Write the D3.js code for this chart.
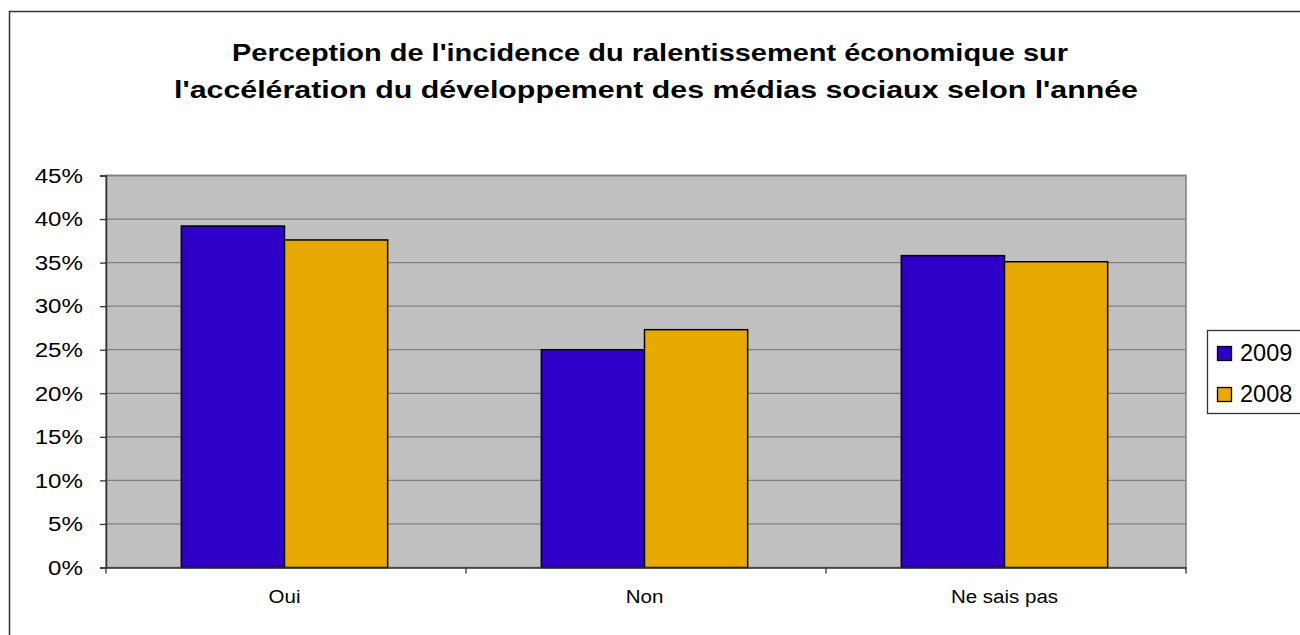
<!DOCTYPE html>
<html><head><meta charset="utf-8">
<script src="https://cdn.jsdelivr.net/npm/d3@7"></script>
<style>body{margin:0;background:#fff;} text{font-family:"Liberation Sans",Arial,sans-serif;}</style>
</head><body>
<svg id="c" width="1300" height="635"></svg>
<script>
const categories = ["Oui", "Non", "Ne sais pas"];
const seriesNames = ["2009", "2008"];
const values2009 = [39.2, 25.0, 35.8];
const values2008 = [37.6, 27.3, 35.1];
const yTicks = [0, 5, 10, 15, 20, 25, 30, 35, 40, 45];
const titleLines = ["Perception de l'incidence du ralentissement économique sur",
                    "l'accélération du développement des médias sociaux selon l'année"];
const colors = ["#2E00C8", "#E8AA00"];

const svg = d3.select("#c");
svg.append("rect").attr("x",9.5).attr("y",11.5).attr("width",1320).attr("height",660)
  .attr("fill","#fff").attr("stroke","#333").attr("stroke-width",1.5);

const L=106, R=1186, T=175.5, B=567.5;
const x = d3.scaleBand().domain(categories).range([L,R]).paddingInner(0).paddingOuter(0);
const xs = d3.scaleBand().domain(seriesNames).range([0, x.bandwidth()]).paddingInner(0).paddingOuter(0.745);
const y = d3.scaleLinear().domain([0,45]).range([B,T]);

svg.append("rect").attr("x",L).attr("y",T).attr("width",R-L).attr("height",B-T)
  .attr("fill","#C0C0C0").attr("stroke","#808080").attr("stroke-width",1.5);

svg.append("g").selectAll("line").data(yTicks.filter(d=>d>0)).join("line")
  .attr("x1",L).attr("x2",R).attr("y1",d=>y(d)).attr("y2",d=>y(d))
  .attr("stroke","#808080").attr("stroke-width",1.3);

const data = [values2009, values2008];
categories.forEach((c,i)=>{
  seriesNames.forEach((s,j)=>{
    const v = data[j][i];
    svg.append("rect").attr("x",x(c)+xs(s)-1.5).attr("y",y(v))
      .attr("width",xs.bandwidth()).attr("height",y(0)-y(v))
      .attr("fill",colors[j]).attr("stroke","#000").attr("stroke-width",1.5);
  });
});

// y axis
const yAxis = d3.axisLeft(y).tickValues(yTicks).tickFormat(d=>d+"%").tickSize(6).tickPadding(0);
const gy = svg.append("g").attr("transform",`translate(${L},0)`).call(yAxis);
gy.select(".domain").attr("stroke","#333").attr("stroke-width",1.5);
gy.selectAll(".tick line").attr("stroke","#333").attr("stroke-width",1.3);
gy.selectAll(".tick text").attr("font-size",21).attr("fill","#000")
  .attr("font-family","Liberation Sans, Arial, sans-serif")
  .attr("x",0).attr("transform","translate(-23,0) scale(1.15,1)");

// x axis
const xb = d3.scaleLinear().domain([0,categories.length]).range([L,R]);
const xAxis = d3.axisBottom(x).tickSize(0).tickPadding(22);
const gx = svg.append("g").attr("transform",`translate(0,${B})`).call(xAxis);
gx.select(".domain").attr("stroke","#333").attr("stroke-width",1.5);
gx.selectAll(".tick text").attr("font-size",19).attr("fill","#000")
  .attr("font-family","Liberation Sans, Arial, sans-serif")
  .attr("transform","scale(1.08,1)");
gx.selectAll(".tick").each(function(){
  const t = d3.select(this);
  const tx = +t.attr("transform").match(/translate\(([-\d.]+)/)[1];
  t.attr("transform",`translate(${tx-1.5},0)`);
});
svg.append("g").selectAll("line").data(d3.range(categories.length+1)).join("line")
  .attr("x1",d=>xb(d)).attr("x2",d=>xb(d)).attr("y1",B).attr("y2",B+6)
  .attr("stroke","#333").attr("stroke-width",1.3);

// title
const titleScale = [1.26, 1.32];
const titleCx = [650, 656];
svg.append("g").selectAll("text").data(titleLines).join("text")
  .attr("transform",(d,i)=>`translate(${titleCx[i]},${61+i*37}) scale(${titleScale[i]},1)`)
  .attr("text-anchor","middle")
  .attr("font-size",23).attr("font-weight","bold").attr("fill","#000").text(d=>d);

// legend
const lg = svg.append("g");
lg.append("rect").attr("x",1207.5).attr("y",330.5).attr("width",120).attr("height",83)
  .attr("fill","#fff").attr("stroke","#333").attr("stroke-width",1.3);
seriesNames.forEach((s,j)=>{
  lg.append("rect").attr("x",1217.5).attr("y",346.5+j*41).attr("width",14).attr("height",14)
    .attr("fill",colors[j]).attr("stroke","#000").attr("stroke-width",1.3);
  lg.append("text").attr("x",1240).attr("y",361+j*41).attr("font-size",23.5).attr("fill","#000").text(s);
});
</script>
</body></html>
